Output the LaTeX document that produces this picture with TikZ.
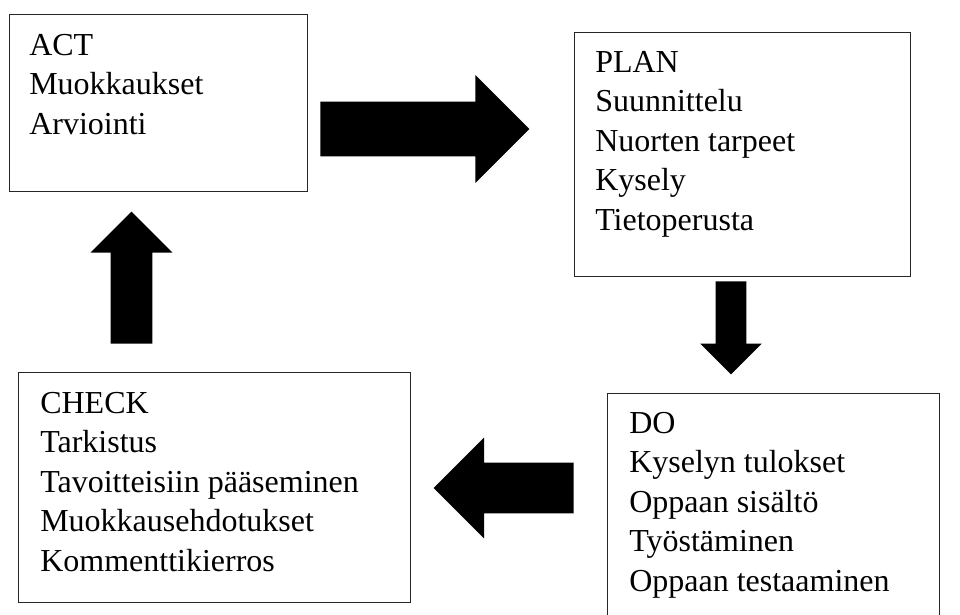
\documentclass[tikz,border=0pt]{standalone}
\usepackage{fontspec}
\setmainfont{Liberation Serif}
\usepackage{tikz}
\usetikzlibrary{positioning,fit,shapes.arrows}
\tikzset{phase/.style={draw=black!85, line width=0.75pt, inner sep=0pt},
         phasetext/.style={anchor=north west, align=left, inner sep=0pt, font=\fontsize{24}{29.6}\selectfont},
         blockarrow/.style={single arrow, fill=black, draw=none, anchor=tail}
}

\begin{document}
\begin{tikzpicture}[x=0.75pt,y=-0.75pt]
    \useasboundingbox (0,0) rectangle (960,614);
    \clip (0,0) rectangle (960,614);

    \node[phase, fit={(9,14) (307,191)}]    (act)   {};
    \node[phase, fit={(574,32) (910,276)}]  (plan)  {};
    \node[phase, fit={(607,393) (939,630)}] (do)    {};
    \node[phase, fit={(18,372) (410,602)}]  (check) {};

    \node[phasetext] (acttext)   at (29,34)   {ACT\\Muokkaukset\\Arviointi};
    \node[phasetext] (plantext)  at (595,51)  {PLAN\\Suunnittelu\\Nuorten tarpeet\\Kysely\\Tietoperusta};
    \node[phasetext] (dotext)    at (629,412) {DO\\Kyselyn tulokset\\Oppaan sisältö\\Työstäminen\\Oppaan testaaminen};
    \node[phasetext] (checktext) at (40,392)  {CHECK\\Tarkistus\\Tavoitteisiin pääseminen\\Muokkausehdotukset\\Kommenttikierros};

    \node[blockarrow, inner sep=20.25pt, minimum height=156.75pt, minimum width=80.25pt, single arrow head extend=19.9pt] (toplan) at (320,129) {};
    \node[blockarrow, inner sep=11.25pt, shape border rotate=270, minimum height=69.75pt, minimum width=45.75pt, single arrow head extend=11.6pt] (todo) at (731,281) {};
    \node[blockarrow, inner sep=18.75pt, shape border rotate=180, minimum height=105pt, minimum width=75pt, single arrow head extend=18.75pt] (tocheck) at (574,488) {};
    \node[blockarrow, inner sep=15.375pt, shape border rotate=90, minimum height=99pt, minimum width=60.75pt, single arrow head extend=15pt] (toact) at (131.5,344) {};
\end{tikzpicture}
\end{document}
